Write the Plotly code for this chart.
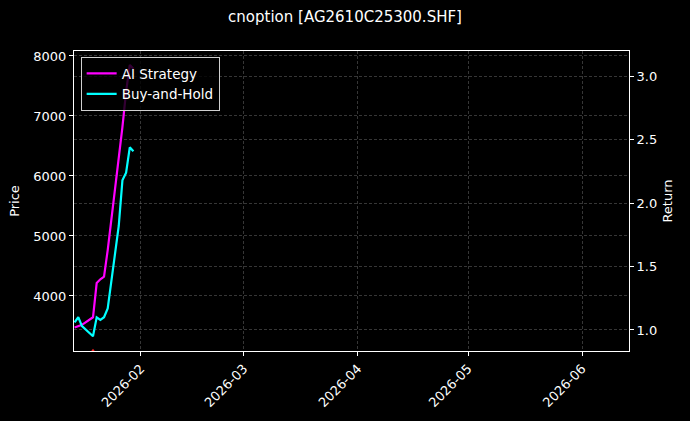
import plotly.graph_objects as go

# daily closes (trading days only)
dates = ["2026-01-14", "2026-01-15", "2026-01-16", "2026-01-19", "2026-01-20",
         "2026-01-21", "2026-01-22", "2026-01-23", "2026-01-26", "2026-01-27",
         "2026-01-28", "2026-01-29", "2026-01-30"]
ai_strategy = [1.02, 1.03, 1.04, 1.10, 1.37, 1.40, 1.42, 1.63, 2.34, 2.60, 2.88, 3.09, 3.06]
buy_and_hold = [1.06, 1.10, 1.03, 0.95, 1.10, 1.08, 1.10, 1.17, 1.82, 2.18, 2.24, 2.44, 2.41]

# trade signal marker (sits on the price axis, mostly clipped at the bottom)
signal_dates = ["2026-01-19"]
signal_price = [3045]

price_ticks = [4000, 5000, 6000, 7000, 8000]
return_ticks = [1.0, 1.5, 2.0, 2.5, 3.0]
month_ticks = ["2026-02-01", "2026-03-01", "2026-04-01", "2026-05-01", "2026-06-01"]
month_labels = ["2026-02", "2026-03", "2026-04", "2026-05", "2026-06"]

grid = dict(showgrid=True, gridcolor="rgba(120,120,120,0.45)", gridwidth=0.6, griddash="3px,2px")
axis_style = dict(showline=True, linecolor="white", linewidth=1, mirror=True,
                  ticks="outside", ticklen=4, tickcolor="white", zeroline=False,
                  automargin=False, tickfont=dict(color="white", size=13))

fig = go.Figure()

fig.add_trace(go.Scatter(
    x=signal_dates, y=signal_price, mode="markers",
    marker=dict(symbol="triangle-up", size=9, color="#ff2020"),
    yaxis="y", showlegend=False, hoverinfo="skip"
))

fig.add_trace(go.Scatter(
    x=dates, y=ai_strategy, mode="lines", name="AI Strategy",
    line=dict(color="#ff00ff", width=2.2), yaxis="y2"
))
fig.add_trace(go.Scatter(
    x=dates, y=buy_and_hold, mode="lines", name="Buy-and-Hold",
    line=dict(color="#00ffff", width=2.2), yaxis="y2"
))

fig.update_layout(
    width=690, height=421,
    margin=dict(l=74, r=61, t=51, b=70),
    paper_bgcolor="black", plot_bgcolor="black",
    font=dict(family="DejaVu Sans", color="white", size=13),
    title=dict(text="cnoption [AG2610C25300.SHF]", x=0.5, xanchor="center",
               y=0.96, yanchor="middle", font=dict(size=15, color="white")),
    xaxis=dict(type="date", range=["2026-01-13 20:00", "2026-06-13 18:00"],
               tickvals=month_ticks, ticktext=month_labels, tickangle=-45,
               **grid, **axis_style),
    yaxis=dict(range=[3083, 8083], tickvals=price_ticks, side="left",
               title=dict(text="Price", font=dict(size=13), standoff=10),
               **grid, **axis_style),
    yaxis2=dict(range=[0.834, 3.20], tickvals=return_ticks, tickformat=".1f",
                overlaying="y", side="right",
                title=dict(text="Return", font=dict(size=13), standoff=6),
                **grid, **axis_style),
    legend=dict(x=0.012, y=0.98, xanchor="left", yanchor="top",
                bgcolor="rgba(0,0,0,0.8)", bordercolor="#d0d0d0", borderwidth=1,
                font=dict(color="white", size=13.5), tracegroupgap=2),
    showlegend=True,
)

# drop the page's default body margin so the figure sits at the window corner
fig.write_html("out.html", config={"displayModeBar": False},
               post_script="document.body.style.margin='0';document.body.style.background='black';")
